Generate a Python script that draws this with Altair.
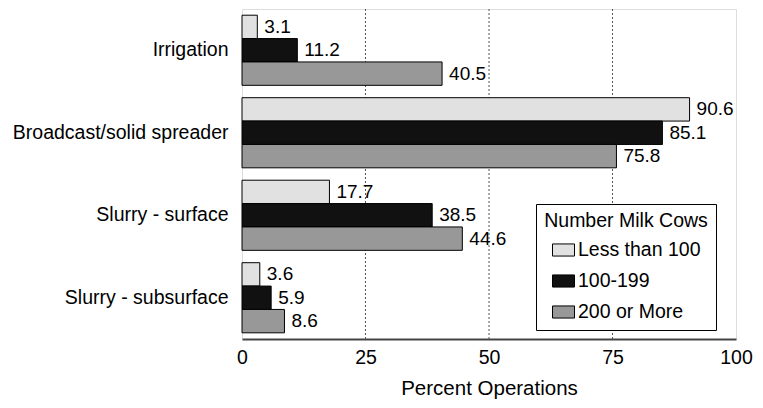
import altair as alt
import pandas as pd

categories = ["Irrigation", "Broadcast/solid spreader", "Slurry - surface", "Slurry - subsurface"]
groups = ["Less than 100", "100-199", "200 or More"]
less_than_100 = [3.1, 90.6, 17.7, 3.6]
h100_199 = [11.2, 85.1, 38.5, 5.9]
h200_more = [40.5, 75.8, 44.6, 8.6]
x_ticks = [0, 25, 50, 75, 100]
colors = ["#e1e1e1", "#111111", "#989898"]

rows = []
for series, vals in zip(groups, [less_than_100, h100_199, h200_more]):
    for c, v in zip(categories, vals):
        rows.append({"Practice": c, "Herd": series, "Value": v, "Label": f"{v:.1f}"})
df = pd.DataFrame(rows)

FONT = "Liberation Sans"

y_enc = alt.Y("Practice:N", sort=categories, title=None,
              scale=alt.Scale(paddingInner=0.15, paddingOuter=0.075),
              axis=alt.Axis(labelFontSize=19.5, labelPadding=14, ticks=False, domain=False,
                            labelColor="#000", labelFont=FONT, labelLimit=400))
yoff = alt.YOffset("Herd:N", sort=groups, scale=alt.Scale(paddingInner=0, paddingOuter=0))
x_enc = alt.X("Value:Q", scale=alt.Scale(domain=[0, 100], nice=False),
              title="Percent Operations",
              axis=alt.Axis(values=x_ticks, ticks=False, labelFontSize=19.5, labelPadding=9,
                            labelFlush=False,
                            titleFontSize=20.5, titlePadding=12, titleFontWeight="normal",
                            labelColor="#000", titleColor="#000", labelFont=FONT, titleFont=FONT,
                            domainColor="#444", domainWidth=2, grid=False))

bars = alt.Chart(df).mark_bar(stroke="#000", strokeWidth=1).encode(
    y=y_enc, yOffset=yoff, x=x_enc,
    color=alt.Color("Herd:N", sort=groups,
                    scale=alt.Scale(domain=groups, range=colors),
                    legend=alt.Legend(title="Number Milk Cows", orient="none",
                                      legendX=294, legendY=195,
                                      strokeColor="#000", fillColor="#fff", padding=8,
                                      titleFontSize=19.5, titleFontWeight="normal", titleFont=FONT,
                                      titleColor="#000", titleAnchor="middle", titlePadding=7,
                                      labelFontSize=19.5, labelFont=FONT, labelColor="#000",
                                      labelOffset=3, rowPadding=10,
                                      symbolType="M-1,-0.55L1,-0.55L1,0.55L-1,0.55Z",
                                      symbolSize=484, symbolStrokeColor="#000",
                                      symbolStrokeWidth=1, symbolOpacity=1)),
)

labels = alt.Chart(df).mark_text(align="left", baseline="middle", dx=7, fontSize=19,
                                 font=FONT, color="#000").encode(
    y=alt.Y("Practice:N", sort=categories), yOffset=alt.YOffset("Herd:N", sort=groups),
    x="Value:Q", text="Label:N")

grid_df = pd.DataFrame({"g": [25, 50, 75]})
grid = alt.Chart(grid_df).mark_rule(color="#555", strokeDash=[2, 2], strokeWidth=1).encode(
    x=alt.X("g:Q"))

chart = alt.layer(grid, bars, labels).properties(
    width=494, height=330,
    padding={"left": 234, "top": 1, "right": 19, "bottom": 61},
    autosize=alt.AutoSizeParams(type="none"),
).configure_view(stroke="#000", strokeWidth=1).configure(font=FONT, background="#fff")

chart.save("out.html", embed_options={"renderer": "svg", "actions": False})
